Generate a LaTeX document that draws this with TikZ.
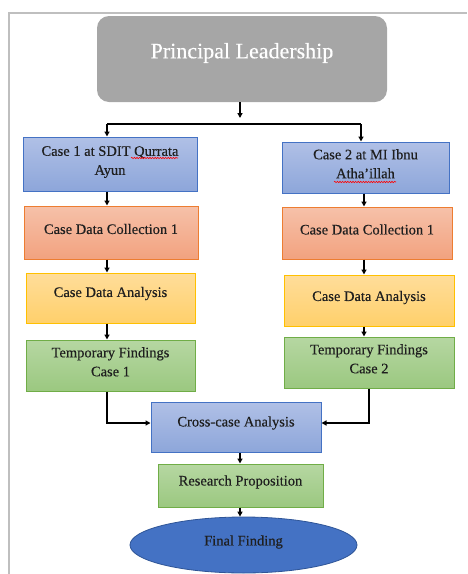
\documentclass[tikz,border=0pt]{standalone}
\usepackage{fontspec}
\setmainfont{Liberation Serif}
\newfontfamily\boxfont{Liberation Serif}[FakeBold=0.35]
\usetikzlibrary{shapes.geometric,arrows.meta,decorations.pathmorphing}

\definecolor{txt}{HTML}{1F1F1F}
\definecolor{frameg}{HTML}{BFBFBF}
\definecolor{plfill}{HTML}{A6A6A6}
\definecolor{blueT}{HTML}{B0C0E6}
\definecolor{blueB}{HTML}{8DA6DA}
\definecolor{blueL}{HTML}{4472C4}
\definecolor{orT}{HTML}{F6C1A9}
\definecolor{orB}{HTML}{F2A27F}
\definecolor{orL}{HTML}{ED7D31}
\definecolor{yeT}{HTML}{FFDD9A}
\definecolor{yeB}{HTML}{FFD06B}
\definecolor{yeL}{HTML}{FFC000}
\definecolor{grT}{HTML}{B6D7A2}
\definecolor{grB}{HTML}{9BC880}
\definecolor{grL}{HTML}{70AD47}
\definecolor{ellF}{HTML}{4472C4}
\definecolor{ellL}{HTML}{2F5597}

% text raised inside its box without changing the box size
\newcommand\lift[2][3.5pt]{\raisebox{#1}[\height][\depth]{#2}}
\newcommand\twolines[2]{\lift[2.5pt]{\begin{tabular}{@{}c@{}}#1\\#2\end{tabular}}}

\tikzset{
  box/.style={draw, line width=1pt, rectangle, align=center, inner sep=2pt,
    text=txt, font=\boxfont\fontsize{14.5}{19}\selectfont},
  bluebox/.style={box, draw=blueL, top color=blueT, bottom color=blueB},
  orangebox/.style={box, draw=orL, top color=orT, bottom color=orB},
  yellowbox/.style={box, draw=yeL, top color=yeT, bottom color=yeB},
  greenbox/.style={box, draw=grL, top color=grT, bottom color=grB},
  arr/.style={line width=1.4pt, draw=black, -{Triangle[length=5pt,width=5pt]}},
  link/.style={line width=1.4pt, draw=black},
  spell/.style={red, line width=0.6pt, decorate,
    decoration={snake, amplitude=0.7pt, segment length=2.6pt}}
}

\begin{document}
\begin{tikzpicture}[x=1pt,y=-1pt]
\useasboundingbox (0,0) rectangle (467,574);

% page frame
\draw[frameg, line width=1.6pt] (9,574) -- (9,13) -- (467,13);

% top node
\node[draw=none, fill=plfill, rounded corners=12pt, minimum width=290pt,
  minimum height=86pt, text=white, font=\boxfont\fontsize{22}{26}\selectfont]
  (pl) at (242,59) {\lift[6pt]{Principal Leadership}};

% left column
\node[bluebox, minimum width=174pt, minimum height=54pt] (c1) at (110,164)
  {\twolines{Case 1 at SDIT Qurrata}{Ayun}};
\node[orangebox, minimum width=174pt, minimum height=53pt] (d1) at (111,232.5)
  {\lift{Case Data Collection 1}};
\node[yellowbox, minimum width=169pt, minimum height=50pt] (a1) at (110.5,298)
  {\lift[4.5pt]{Case Data Analysis}};
\node[greenbox, minimum width=169pt, minimum height=51pt] (t1) at (110.5,365.5)
  {\twolines{Temporary Findings}{Case 1}};

% right column
\node[bluebox, minimum width=167pt, minimum height=51pt] (c2) at (365.5,167.5)
  {\twolines{Case 2 at MI Ibnu}{Atha’illah}};
\node[orangebox, minimum width=170pt, minimum height=52pt] (d2) at (367,233)
  {\lift{Case Data Collection 1}};
\node[yellowbox, minimum width=170pt, minimum height=51pt] (a2) at (369,300.5)
  {\lift[3pt]{Case Data Analysis}};
\node[greenbox, minimum width=170pt, minimum height=51pt] (t2) at (369,362.5)
  {\twolines{Temporary Findings}{Case 2}};

% merge and result
\node[bluebox, minimum width=170pt, minimum height=50pt] (x) at (236,427)
  {\lift[4pt]{Cross-case Analysis}};
\node[greenbox, minimum width=165pt, minimum height=43pt] (r) at (240.5,485.5)
  {\lift[3.5pt]{Research Proposition}};
\node[ellipse, draw=ellL, line width=0.8pt, fill=ellF, minimum width=227pt,
  minimum height=56pt, inner sep=0pt, text=txt,
  font=\boxfont\fontsize{14.5}{19}\selectfont] (f) at (243.5,545)
  {\lift[3pt]{Final Finding}};

% spelling marks
\draw[spell] (131,158) -- (178,158);
\draw[spell] (334,182) -- (396,182);

% split below the top node
\coordinate (jt) at (240,118);
\coordinate (jl) at (107,124);
\coordinate (jr) at (361,124);
\draw[arr] (pl.south -| jt) -- (jt);
\draw[link] (jl) -- (jr);
\draw[arr] (jl) -- (jl |- c1.north);
\draw[arr] (jr) -- (jr |- c2.north);

% left chain
\coordinate (lx) at (107,0);
\draw[arr] (lx |- c1.south) -- (lx |- d1.north);
\draw[arr] (lx |- d1.south) -- (lx |- a1.north);
\draw[arr] (lx |- a1.south) -- (lx |- t1.north);

% right chain
\coordinate (rx) at (364,0);
\draw[arr] (rx |- c2.south) -- (rx |- d2.north);
\draw[arr] (rx |- d2.south) -- (rx |- a2.north);
\draw[arr] (rx |- a2.south) -- (rx |- t2.north);

% merge into cross-case analysis
\coordinate (ml) at (107,423);
\coordinate (mr) at (369,423);
\draw[arr] (ml |- t1.south) -- (ml) -- (ml -| x.west);
\draw[arr] (mr |- t2.south) -- (mr) -- (mr -| x.east);

% lower chain
\coordinate (cx) at (240,0);
\draw[arr] (cx |- x.south) -- (cx |- r.north);
\draw[arr] (cx |- r.south) -- (cx |- f.north);
\end{tikzpicture}
\end{document}
